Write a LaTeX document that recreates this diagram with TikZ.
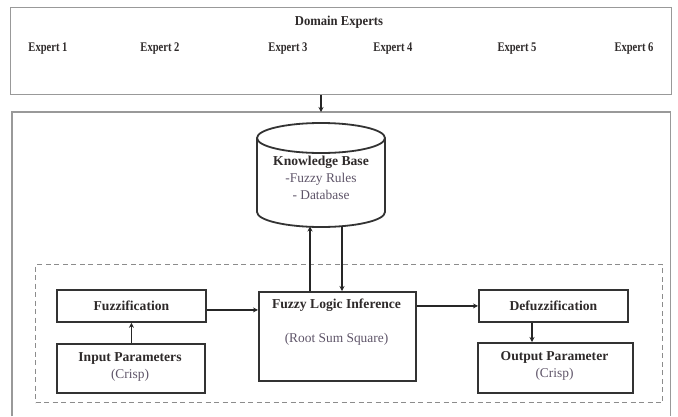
\documentclass[tikz,border=0pt]{standalone}
\usepackage{fontspec}
\setmainfont{Liberation Serif}
\usetikzlibrary{arrows.meta,calc}
\definecolor{txt}{HTML}{2E2A2A}
\definecolor{soft}{HTML}{5E5468}
\newcommand{\narrow}[2]{\scalebox{#1}[1]{#2}}
\begin{document}
\begin{tikzpicture}[x=1pt,y=-1pt,
  frame/.style={draw=black!40, line width=1.4pt},
  box/.style={draw=black!80, line width=1.8pt, inner sep=0pt, anchor=north west},
  dbox/.style={draw=black!45, line width=1.1pt, dash pattern=on 5pt off 3.5pt, inner sep=0pt, anchor=north west},
  arr/.style={-{Stealth[length=5pt,width=5pt]}, line width=1.6pt, draw=black!85},
  ttl/.style={font=\bfseries\fontsize{13.6}{15}\selectfont, text=txt},
  ex/.style={font=\bfseries\fontsize{13.2}{13}\selectfont, text=txt},
  lbl/.style={font=\bfseries\fontsize{13.6}{17}\selectfont, text=txt, align=center},
  sub/.style={font=\fontsize{13.4}{17}\selectfont, text=soft, align=center},
]
\useasboundingbox (0,0) rectangle (678,416);

% Domain experts box
\node[frame, minimum width=661pt, minimum height=87pt, inner sep=0pt, anchor=north west] (de) at (10,7) {};
\node[ttl] (det) at (339,22) {\narrow{0.93}{Domain Experts}};
\node[ex] (e1) at (48,49) {\narrow{0.8}{Expert 1}};
\node[ex] (e2) at (160,49) {\narrow{0.8}{Expert 2}};
\node[ex] (e3) at (288,49) {\narrow{0.8}{Expert 3}};
\node[ex] (e4) at (393,49) {\narrow{0.8}{Expert 4}};
\node[ex] (e5) at (517,49) {\narrow{0.8}{Expert 5}};
\node[ex] (e6) at (634,49) {\narrow{0.8}{Expert 6}};

% system frame (open at bottom)
\node[minimum width=658pt, minimum height=304pt, inner sep=0pt, anchor=north west] (sys) at (12,112) {};
\draw[frame] (sys.south west) |- (sys.north east) -- (sys.south east);

\coordinate (ax) at (321,0);
\draw[arr] (de.south -| ax) -- (sys.north -| ax);

% knowledge base cylinder
\node[minimum width=128pt, minimum height=74pt, inner sep=0pt, anchor=north west] (kb) at (257,138) {};
\draw[black!80, line width=1.8pt, fill=white] (321,138) ellipse [x radius=64, y radius=15];
\draw[black!80, line width=1.8pt] (257,138) -- (257,212) arc[start angle=180, end angle=360, x radius=64, y radius=-15] -- (385,138);
\node[lbl] (kbt) at (321,162) {Knowledge Base};
\node[sub] (kb1) at (321,179) {-Fuzzy Rules};
\node[sub] (kb2) at (321,195) {- Database};
\coordinate (kbL) at (310,226.5);
\coordinate (kbR) at (342,226.2);

% fuzzy inference system
\node[dbox, minimum width=627pt, minimum height=138pt] (fis) at (35,264) {};

\node[box, minimum width=149pt, minimum height=32pt] (fuz) at (56,289) {};
\node[lbl] (fuzt) at (fuz.center) {Fuzzification};

\node[box, minimum width=148pt, minimum height=49pt] (inp) at (56,343) {};
\node[lbl] (inpt) at (130,358) {Input Parameters};
\node[sub] (inps) at (130,375) {(Crisp)};

\node[box, minimum width=157pt, minimum height=89pt] (fli) at (258,291) {};
\node[lbl] (flit) at (336.5,305) {Fuzzy Logic Inference};
\node[sub] (flis) at (336.5,339) {(Root Sum Square)};

\node[box, minimum width=149pt, minimum height=32pt] (def) at (478,289) {};
\node[lbl] (deft) at (def.center) {Defuzzification};

\node[box, minimum width=155pt, minimum height=50pt] (out) at (477,342) {};
\node[lbl] (outt) at (554.5,357) {Output Parameter};
\node[sub] (outs) at (554.5,374) {(Crisp)};

% connectors
\draw[arr] (inp.north -| fuz.south) -- (fuz.south);
\draw[arr] ($(fuz.east)+(0,4)$) -- ($(fuz.east -| fli.west)+(0,4)$);
\draw[arr] (fli.east |- def.west) -- (def.west);
\coordinate (dx) at (532,0);
\draw[arr] (def.south -| dx) -- (out.north -| dx);
\draw[arr] (fli.north -| kbL) -- (kbL);
\draw[arr] (kbR) -- (kbR |- fli.north);
\end{tikzpicture}
\end{document}
